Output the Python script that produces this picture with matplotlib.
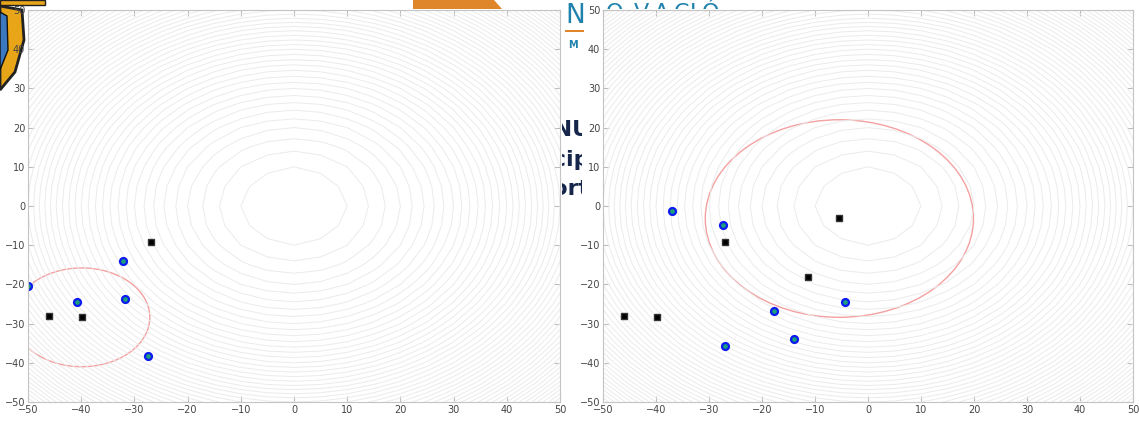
import matplotlib
matplotlib.use("Agg")
import matplotlib.pyplot as plt
import numpy as np
from matplotlib.patches import Ellipse, Polygon
from matplotlib.transforms import Bbox

# --- donnees ---
grid = np.arange(-50, 51, 5)
levels = np.arange(100, 5001, 100)

left_blue_x = [-50.0, -40.8, -32.1, -31.8, -27.4]
left_blue_y = [-20.4, -24.5, -14.1, -23.7, -38.2]
left_black_x = [-46.0, -39.9, -26.9]
left_black_y = [-28.0, -28.4, -9.3]
left_ell = (-39.9, -28.4, 12.8, 12.6)   # centre x, centre y, demi-axe x, demi-axe y

right_blue_x = [-37.0, -27.3, -17.7, -14.0, -26.9, -4.3]
right_blue_y = [-1.4, -4.9, -26.9, -34.0, -35.8, -24.6]
right_black_x = [-46.0, -39.8, -26.9, -11.4, -5.4]
right_black_y = [-28.0, -28.2, -9.3, -18.1, -3.1]
right_ell = (-5.4, -3.2, 25.3, 25.2)

ticks = np.arange(-50, 51, 10)

W, H = 1139, 424
fig = plt.figure(figsize=(W / 100, H / 100), dpi=100)


def draw_panel(rect, bx, by, kx, ky, ell):
    ax = fig.add_axes(rect)
    X, Y = np.meshgrid(grid, grid)
    Z = X ** 2 + Y ** 2
    ax.contour(X, Y, Z, levels=levels, colors='#ebebeb', linewidths=0.7)
    e = Ellipse((ell[0], ell[1]), 2 * ell[2], 2 * ell[3], fill=False,
                edgecolor='#f4a0a0', linewidth=1.0)
    ax.add_patch(e)
    ax.plot(kx, ky, 's', color='black', markersize=4.5, markeredgecolor='#333333')
    ax.plot(bx, by, 'o', markerfacecolor='#1aa07a', markeredgecolor='#0a1af0',
            markeredgewidth=1.6, markersize=5)
    ax.set_xlim(-50, 50)
    ax.set_ylim(-50, 50)
    ax.set_xticks(ticks)
    ax.set_yticks(ticks)
    ax.tick_params(direction='in', top=True, right=True, length=4,
                   color='#bbbbbb', labelcolor='#444444', labelsize=7, pad=2)
    for s in ax.spines.values():
        s.set_color('#c4c4c4')
    return ax


axl = draw_panel([28 / W, 22 / H, 532 / W, 392 / H],
                 left_blue_x, left_blue_y, left_black_x, left_black_y, left_ell)
axr = draw_panel([603 / W, 22 / H, 530 / W, 392 / H],
                 right_blue_x, right_blue_y, right_black_x, right_black_y, right_ell)

# --- restes de la diapositive en arriere-plan ---
def fig_poly(pts, **kw):
    p = Polygon([(x / W, 1 - y / H) for x, y in pts], closed=True,
                transform=fig.transFigure, **kw)
    fig.patches.append(p)

fig_poly([(413, 0), (494, 0), (502, 9), (413, 9)], facecolor='#e0862a', edgecolor='none', zorder=-2)
fig_poly([(0, 0), (45, 0), (45, 5), (0, 5)], facecolor='#e8a517', edgecolor='#222222',
         linewidth=1, zorder=-2)
fig_poly([(0, 6), (22, 10), (24, 40), (15, 72), (0, 90)], facecolor='#e8a517',
         edgecolor='#222222', linewidth=2, zorder=-2)
fig_poly([(0, 12), (7, 16), (8, 50), (0, 70)], facecolor='#3a78c0',
         edgecolor='#111111', linewidth=1, zorder=-2)

fig.text(565 / W, 1 - 23 / H, 'N', color='#1f82ad', fontsize=19, zorder=-1)
fig_poly([(565, 30), (584, 30), (584, 32), (565, 32)], facecolor='#e0862a',
         edgecolor='none', zorder=-1)
fig.text(568 / W, 1 - 48 / H, 'M', color='#1f82ad', fontsize=7, fontweight='bold', zorder=-1)

# seul le haut des lettres depasse au-dessus du panneau de droite
top_clip = Bbox.from_extents(600, H - 9, W, H)
for lx, ch in zip([606, 634, 654, 674, 690, 702], 'OVACIÓN'):
    t = fig.text(lx / W, 1 - 19 / H, ch, color='#1f82ad', fontsize=16, zorder=-1)
    t.set_clip_box(top_clip)
    t.set_clip_on(True)

side_clip = Bbox.from_extents(562, 0, 582, H)
for yy, s in [(136, 'INNU'), (166, 'Princip'), (195, 'Soport')]:
    t = fig.text(590 / W, 1 - yy / H, s, color='#15264a', fontsize=16,
                 fontweight='bold', ha='right', zorder=-1)
    t.set_clip_box(side_clip)
    t.set_clip_on(True)

fig.savefig('out.png', dpi=100)
